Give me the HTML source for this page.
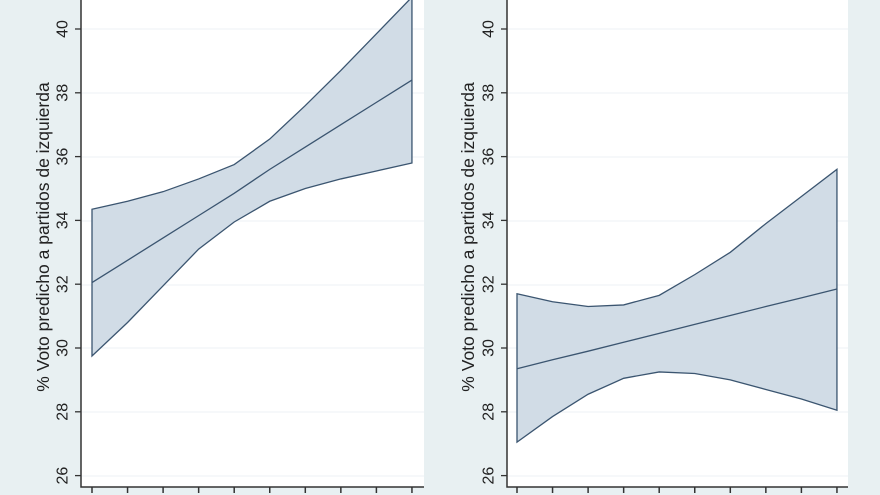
<!DOCTYPE html>
<html><head><style>html,body{margin:0;background:#e8f0f2;overflow:hidden;width:880px;height:495px}svg{display:block}</style></head><body>
<svg width="880" height="495" viewBox="0 0 880 495" xmlns="http://www.w3.org/2000/svg" font-family="Liberation Sans, sans-serif">
<rect width="880" height="495" fill="#e8f0f2"/>
<rect x="81" y="0" width="343" height="487" fill="#fff"/>
<rect x="507" y="0" width="341" height="487" fill="#fff"/>
<g id="grid" stroke="#eef2f4" stroke-width="1">
<line x1="82" x2="424" y1="29" y2="29"/><line x1="82" x2="424" y1="93" y2="93"/><line x1="82" x2="424" y1="157" y2="157"/><line x1="82" x2="424" y1="221" y2="221"/><line x1="82" x2="424" y1="285" y2="285"/><line x1="82" x2="424" y1="348" y2="348"/><line x1="82" x2="424" y1="412" y2="412"/><line x1="82" x2="424" y1="476" y2="476"/>
<line x1="507" x2="848" y1="29" y2="29"/><line x1="507" x2="848" y1="93" y2="93"/><line x1="507" x2="848" y1="157" y2="157"/><line x1="507" x2="848" y1="221" y2="221"/><line x1="507" x2="848" y1="285" y2="285"/><line x1="507" x2="848" y1="348" y2="348"/><line x1="507" x2="848" y1="412" y2="412"/><line x1="507" x2="848" y1="476" y2="476"/>
</g>
<g id="plots"></g>
<g stroke="#333" stroke-width="1.5" fill="none">
<path d="M81 0V487H424"/><path d="M507 0V487H848"/>
</g>
</svg>
<script>
const ns="http://www.w3.org/2000/svg",g=document.getElementById('plots');
const Y=v=>29+(40-v)*31.9;
function el(t,a,p){const e=document.createElementNS(ns,t);for(const k in a)e.setAttribute(k,a[k]);(p||g).appendChild(e);return e;}
function panel(ax,x0,up,lo,ce,lx,tx){
 const xs=up.map((_,i)=>x0+i*35.55);
 const pu=xs.map((x,i)=>x+','+Y(up[i])), pl=xs.map((x,i)=>x+','+Y(lo[i])).reverse();
 el('polygon',{points:pu.concat(pl).join(' '),fill:'#d1dce6',stroke:'#3b5570','stroke-width':1.3});
 el('polyline',{points:xs.map((x,i)=>x+','+Y(ce[i])).join(' '),fill:'none',stroke:'#3b5570','stroke-width':1.3});
 xs.forEach(x=>el('line',{x1:x,x2:x,y1:487,y2:493,stroke:'#333','stroke-width':1.5}));
 for(let v=26;v<=40;v+=2){const y=Y(v);el('line',{x1:ax-6,x2:ax,y1:y,y2:y,stroke:'#333','stroke-width':1.3});
  const t=el('text',{x:lx,y:y,transform:`rotate(-90 ${lx} ${y})`,'text-anchor':'middle','dominant-baseline':'central','font-size':16,fill:'#222'});t.textContent=v;}
 const t=el('text',{x:tx,y:237,transform:`rotate(-90 ${tx} 237)`,'text-anchor':'middle','dominant-baseline':'central','font-size':17.5,fill:'#222'});t.textContent='% Voto predicho a partidos de izquierda';
}
panel(81,92,[34.35,34.6,34.9,35.3,35.75,36.55,37.6,38.7,39.85,41],[29.75,30.8,31.95,33.1,33.95,34.6,35.0,35.3,35.55,35.8],[32.05,32.75,33.45,34.15,34.85,35.6,36.3,37.0,37.7,38.4],63,43);
panel(507,517,[31.7,31.45,31.3,31.35,31.65,32.3,33.0,33.9,34.75,35.6],[27.05,27.85,28.55,29.05,29.25,29.2,29.0,28.7,28.4,28.05],[29.35,29.63,29.9,30.18,30.46,30.74,31.02,31.3,31.57,31.85],489,468);
</script>
</body></html>
